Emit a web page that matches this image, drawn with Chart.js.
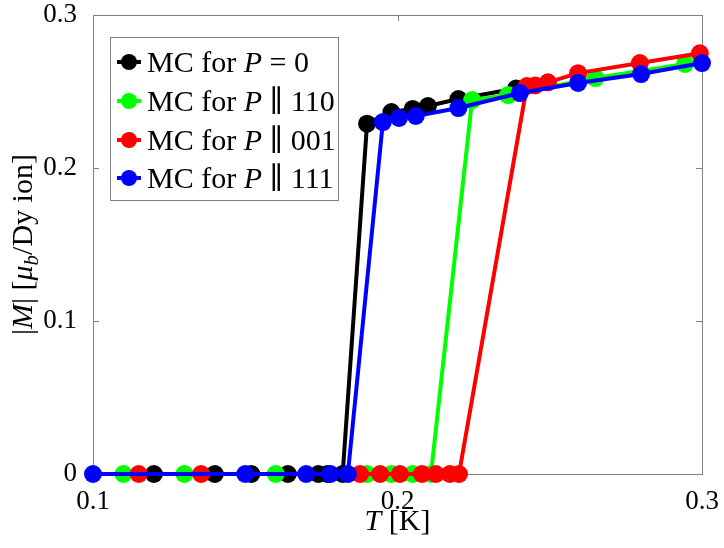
<!DOCTYPE html>
<html>
<head>
<meta charset="utf-8">
<script src="https://cdn.jsdelivr.net/npm/chart.js@4/dist/chart.umd.min.js"></script>
<style>
  html, body { margin: 0; padding: 0; background: #fff; }
  #wrap { width: 724px; height: 548px; }
</style>
</head>
<body>
<div id="wrap"><canvas id="myChart" width="724" height="548"></canvas></div>
<script>
// values
const tBlack = [0.12, 0.14, 0.152, 0.164, 0.174, 0.177, 0.182, 0.19, 0.198, 0.205, 0.21, 0.22, 0.239];
const mBlack = [0, 0, 0, 0, 0, 0, 0, 0.229, 0.2366, 0.2386, 0.2405, 0.2451, 0.252];

const tGreen = [0.11, 0.13, 0.16, 0.19, 0.198, 0.205, 0.211, 0.2245, 0.2363, 0.265, 0.2944];
const mGreen = [0, 0, 0, 0, 0, 0, 0, 0.2444, 0.2477, 0.2588, 0.268];

const tRed = [0.115, 0.1355, 0.1877, 0.1943, 0.2008, 0.208, 0.2126, 0.2172, 0.2202, 0.2425, 0.2452, 0.2494, 0.2593, 0.2796, 0.2993];
const mRed = [0, 0, 0, 0, 0, 0, 0, 0, 0, 0.2536, 0.254, 0.256, 0.262, 0.2686, 0.275];

const tBlue = [0.1, 0.15, 0.17, 0.178, 0.1837, 0.1952, 0.2005, 0.206, 0.22, 0.2402, 0.2593, 0.28, 0.3];
const mBlue = [0, 0, 0, 0, 0, 0.230, 0.2327, 0.234, 0.2392, 0.249, 0.2556, 0.2614, 0.2686];

const seriesNames = [' = 0', ' \u2225 110', ' \u2225 001', ' \u2225 111'];
const seriesColors = ['#000000', '#00ff00', '#ff0000', '#0000ff'];
const xTicks = [0.1, 0.2, 0.3];
const yTicks = [0, 0.1, 0.2, 0.3];

const SERIF = '"Liberation Serif", "DejaVu Serif", serif';

function toPoints(ts, ms) {
    const pts = [];
    for (let i = 0; i < ts.length; i++) {
        pts.push({ x: ts[i], y: ms[i] });
    }
    return pts;
}

// draws a run of text pieces (some italic / subscript) centred on x
function drawRich(ctx, parts, x, y, size) {
    let total = 0;
    const widths = [];
    for (const p of parts) {
        const s = p.sub ? size * 0.7 : size;
        ctx.font = (p.italic ? 'italic ' : '') + s + 'px ' + SERIF;
        const w = ctx.measureText(p.t).width;
        widths.push(w);
        total += w;
    }
    let cx = x - total / 2;
    parts.forEach((p, i) => {
        const s = p.sub ? size * 0.7 : size;
        ctx.font = (p.italic ? 'italic ' : '') + s + 'px ' + SERIF;
        ctx.fillText(p.t, cx, p.sub ? y + size * 0.2 : y);
        cx += widths[i];
    });
}

const framePlugin = {
    id: 'frame',
    beforeDatasetsDraw(chart) {
        const { ctx, chartArea: a, scales } = chart;
        ctx.save();
        ctx.strokeStyle = '#808080';
        ctx.lineWidth = 1;
        ctx.strokeRect(a.left + 0.5, a.top + 0.5, a.right - a.left, a.bottom - a.top);
        const len = 6;
        ctx.beginPath();
        for (const v of xTicks) {
            const px = Math.round(scales.x.getPixelForValue(v)) + 0.5;
            ctx.moveTo(px, a.bottom); ctx.lineTo(px, a.bottom - len);
            ctx.moveTo(px, a.top); ctx.lineTo(px, a.top + len);
        }
        for (const v of yTicks) {
            const py = Math.round(scales.y.getPixelForValue(v)) + 0.5;
            ctx.moveTo(a.left, py); ctx.lineTo(a.left + len, py);
            ctx.moveTo(a.right, py); ctx.lineTo(a.right - len, py);
        }
        ctx.stroke();
        ctx.restore();
    },
    afterDraw(chart) {
        const { ctx, chartArea: a } = chart;
        ctx.save();
        ctx.fillStyle = '#000';
        ctx.textBaseline = 'alphabetic';
        ctx.textAlign = 'left';

        // x title
        drawRich(ctx, [{ t: 'T', italic: true }, { t: ' [K]' }], (a.left + a.right) / 2, 530, 30);

        // y title
        ctx.save();
        ctx.translate(32, (a.top + a.bottom) / 2);
        ctx.rotate(-Math.PI / 2);
        drawRich(ctx, [
            { t: '|' }, { t: 'M', italic: true }, { t: '| [' },
            { t: '\u03bc', italic: true }, { t: 'b', italic: true, sub: true },
            { t: '/Dy ion]' }
        ], 0, 0, 30);
        ctx.restore();

        // legend box
        const bx = 110, by = 37, bw = 228, bh = 163;
        ctx.fillStyle = '#fff';
        ctx.fillRect(bx, by, bw, bh);
        ctx.strokeStyle = '#808080';
        ctx.lineWidth = 1;
        ctx.strokeRect(bx + 0.5, by + 0.5, bw, bh);
        const rows = [62, 101, 140, 178];
        for (let i = 0; i < 4; i++) {
            const cy = rows[i];
            ctx.strokeStyle = seriesColors[i];
            ctx.lineWidth = 4;
            ctx.beginPath();
            ctx.moveTo(117, cy); ctx.lineTo(141, cy);
            ctx.stroke();
            ctx.fillStyle = seriesColors[i];
            ctx.beginPath();
            ctx.arc(129, cy, 8, 0, Math.PI * 2);
            ctx.fill();
            ctx.fillStyle = '#000';
            let x = 147;
            ctx.font = '30px ' + SERIF;
            ctx.fillText('MC for ', x, cy + 10);
            x += ctx.measureText('MC for ').width;
            ctx.font = 'italic 30px ' + SERIF;
            ctx.fillText('P', x, cy + 10);
            x += ctx.measureText('P').width;
            ctx.font = '30px ' + SERIF;
            ctx.fillText(seriesNames[i], x, cy + 10);
        }
        ctx.restore();
    }
};

function makeSet(ts, ms, color, order) {
    return {
        data: toPoints(ts, ms),
        borderColor: color,
        backgroundColor: color,
        borderWidth: 4,
        pointRadius: 9,
        pointHoverRadius: 9,
        pointBorderWidth: 0,
        fill: false,
        tension: 0,
        clip: false,
        order: order
    };
}

function draw() {
    const ctx = document.getElementById('myChart').getContext('2d');
    new Chart(ctx, {
        type: 'line',
        data: {
            datasets: [
                makeSet(tBlack, mBlack, seriesColors[0], 4),
                makeSet(tGreen, mGreen, seriesColors[1], 3),
                makeSet(tRed, mRed, seriesColors[2], 2),
                makeSet(tBlue, mBlue, seriesColors[3], 1)
            ]
        },
        options: {
            responsive: false,
            animation: false,
            layout: { padding: { top: 15, right: 22, left: 0, bottom: 0 } },
            plugins: {
                legend: { display: false },
                tooltip: { enabled: false }
            },
            scales: {
                x: {
                    type: 'linear',
                    min: 0.1,
                    max: 0.3,
                    afterBuildTicks(scale) { scale.ticks = xTicks.map(v => ({ value: v })); },
                    afterFit(scale) {
                        scale.height = 74;
                        scale.paddingLeft = 0;
                        scale.paddingRight = 0;
                    },
                    grid: { display: false },
                    border: { display: false },
                    ticks: {
                        color: '#000',
                        padding: 4,
                        maxRotation: 0,
                        font: { family: SERIF, size: 27 },
                        callback: (v) => v.toFixed(1)
                    }
                },
                y: {
                    type: 'linear',
                    min: 0,
                    max: 0.3,
                    afterBuildTicks(scale) { scale.ticks = yTicks.map(v => ({ value: v })); },
                    afterFit(scale) {
                        scale.width = 93;
                        scale.paddingTop = 0;
                        scale.paddingBottom = 0;
                    },
                    grid: { display: false },
                    border: { display: false },
                    ticks: {
                        color: '#000',
                        padding: 8,
                        font: { family: SERIF, size: 27 },
                        callback: (v) => v === 0 ? '0' : v.toFixed(1)
                    }
                }
            }
        },
        plugins: [framePlugin]
    });
}

// make sure the serif faces are ready before the canvas uses them
Promise.all([
    document.fonts.load('27px "Liberation Serif"'),
    document.fonts.load('italic 30px "Liberation Serif"'),
    document.fonts.load('30px "Liberation Serif"')
]).then(draw, draw);
</script>
</body>
</html>
